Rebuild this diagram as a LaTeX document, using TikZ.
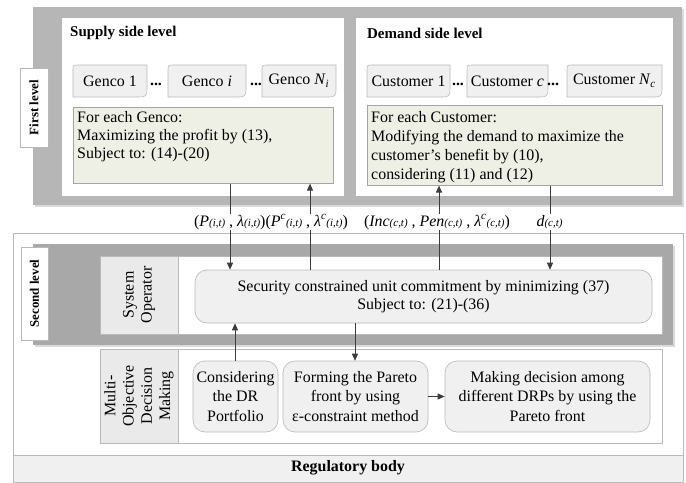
\documentclass[tikz,border=0pt]{standalone}
\usepackage{fontspec}
\setmainfont{Liberation Serif}
\usetikzlibrary{arrows.meta,calc}
\definecolor{frameA}{RGB}{182,182,182}
\definecolor{frameB}{RGB}{168,168,168}
\definecolor{shadowc}{RGB}{218,218,218}
\definecolor{boxline}{RGB}{185,185,185}
\definecolor{greenf}{RGB}{238,240,229}
\definecolor{greenl}{RGB}{165,165,165}
\definecolor{lightf}{RGB}{240,240,240}
\definecolor{labf}{RGB}{234,234,234}
\definecolor{arrc}{RGB}{60,60,60}
\newcommand\lsub[1]{{\fontsize{11}{11}\selectfont\textit{#1}}}
\newcommand\lsup[1]{\textsuperscript{\textit{#1}}}
\newcommand\dsub[1]{\textsubscript{\textit{#1}}}
\tikzset{
  whitebox/.style={draw=boxline, fill=white, line width=0.6bp},
  labbox/.style={draw=boxline, fill=labf, line width=0.6bp},
  gshape/.style={draw=boxline, fill=lightf, line width=0.6bp},
  greenbox/.style={draw=greenl, fill=greenf, line width=0.6bp, inner sep=0pt},
  rbox/.style={draw=boxline, fill=lightf, line width=0.6bp, rounded corners=12bp, align=center, inner sep=0pt, font=\fontsize{16}{19.5}\selectfont},
  txt/.style={font=\fontsize{16}{18}\selectfont, inner sep=0pt},
  ttl/.style={font=\fontsize{15}{18}\selectfont\bfseries, inner sep=0pt},
  vlab/.style={font=\fontsize{13}{15}\selectfont\bfseries, inner sep=0pt, rotate=90},
  vtxt/.style={font=\fontsize{16}{18}\selectfont, inner sep=0pt, rotate=90, align=center},
  flow/.style={draw=arrc, line width=0.9bp, -{Triangle[length=7bp,width=6bp]}},
  flab/.style={fill=white, inner sep=1bp, font=\fontsize{16}{18}\selectfont}
}
\newcommand\gbox[6]{%
  \draw[gshape] (#2,#5) -- (#2,{#3+6}) .. controls (#2,#3) .. ({#2+6},#3) -- (#4,#3)
     -- (#4,{#5-11}) .. controls (#4,#5) .. ({#4-11},#5) -- cycle;
  \node[txt] (#1) at ({(#2+#4)/2},{(#3+#5)/2}) {#6};}
\begin{document}
\begin{tikzpicture}[x=1bp,y=-1bp]
\useasboundingbox (0,0) rectangle (686,483);
% ---------------- First level ----------------
\fill[shadowc] (35,9) rectangle (684,207);
\fill[frameA] (33,7) rectangle (682,205);
\draw[whitebox, draw=white] (62,18) rectangle (343,195);
\draw[whitebox, draw=white] (356,18) rectangle (672,195);
\draw[whitebox] (20,68) rectangle (48,147);
\node[vlab] (l1) at (34,107.5) {First level};
\node[ttl, anchor=west] (sup) at (70,33) {Supply side level};
\node[ttl, anchor=west] (dem) at (367,33) {Demand side level};
% gencos
\gbox{ga}{73}{65}{147}{97}{Genco 1}
\node[txt, font=\fontsize{16}{18}\selectfont\bfseries] (d1) at (156,84) {...};
\gbox{gb}{168}{65}{246}{97}{Genco \textit{i}}
\node[txt, font=\fontsize{16}{18}\selectfont\bfseries] (d2) at (256,84) {...};
\gbox{gc}{262}{65}{336}{97}{Genco \textit{N}\dsub{i}}
% customers
\gbox{ca}{367}{65}{450}{97}{Customer 1}
\node[txt, font=\fontsize{16}{18}\selectfont\bfseries] (d3) at (458,84) {...};
\gbox{cb}{467}{65}{548}{97}{Customer \textit{c}}
\node[txt, font=\fontsize{16}{18}\selectfont\bfseries] (d4) at (553,84) {...};
\gbox{cc}{567}{65}{662}{97}{Customer \textit{N}\dsub{c}}
% green boxes
\node[greenbox, minimum width=260bp, minimum height=76bp, anchor=north west] (gs) at (73,107) {};
\node[txt, anchor=north west, align=left] (gstxt) at (77,111.5) {For each Genco:\\Maximizing the profit by (13),\\Subject to: (14)-(20)};
\node[greenbox, minimum width=295bp, minimum height=80bp, anchor=north west] (gd) at (367,105) {};
\node[txt, anchor=north west, align=left, font=\fontsize{16}{19}\selectfont] (gdtxt) at (371,111.5) {For each Customer:\\Modifying the demand to maximize the\\customer’s benefit by (10),\\considering (11) and (12)};
% ---------------- Second level ----------------
\draw[boxline, line width=0.6bp] (13,233) rectangle (683,482);
\draw[boxline, fill=lightf, line width=0.6bp] (13,455) rectangle (683,482);
\node[txt, font=\fontsize{16}{18}\selectfont\bfseries] (reg) at (348,468) {Regulatory body};
\fill[shadowc] (35,246) rectangle (675,347);
\fill[frameB] (33,244) rectangle (673,345);
\draw[whitebox] (21,247) rectangle (48,340);
\node[vlab] (l2) at (34.5,293.5) {Second level};
% system operator
\draw[whitebox] (100,256) rectangle (662,334);
\draw[labbox] (100,256) rectangle (178,334);
\node[vtxt] (so) at (139,295) {System\\Operator};
\node[rbox, minimum width=457bp, minimum height=53bp, font=\fontsize{16}{18}\selectfont] (scuc) at (423.5,296.5) {Security constrained unit commitment by minimizing (37)\\Subject to: (21)-(36)};
% MODM
\draw[whitebox] (100,349) rectangle (662,443);
\draw[labbox] (100,349) rectangle (178,443);
\node[vtxt, font=\fontsize{16}{18.3}\selectfont] (modm) at (139,396) {Multi-\\Objective\\Decision\\Making};
\node[rbox, minimum width=85bp, minimum height=71bp] (cons) at (235.5,396.5) {Considering\\the DR\\Portfolio};
\node[rbox, minimum width=145bp, minimum height=71bp] (form) at (355.5,396.5) {Forming the Pareto\\front by using\\ε-constraint method};
\node[rbox, minimum width=205bp, minimum height=71bp] (make) at (547.5,396.5) {Making decision among\\different DRPs by using the\\Pareto front};
% ---------------- connectors ----------------
\coordinate (xa) at (230,0);
\coordinate (xb) at (310,0);
\coordinate (xc) at (439,0);
\coordinate (xd) at (550,0);
\coordinate (xe) at (235,0);
\coordinate (xf) at (355,0);
\draw[flow] (gs.south -| xa) -- (scuc.north -| xa);
\draw[flow] (scuc.north -| xb) -- (gs.south -| xb);
\draw[flow] (scuc.north -| xc) -- (gd.south -| xc);
\draw[flow] (gd.south -| xd) -- (scuc.north -| xd);
\draw[flow] (cons.north -| xe) -- (scuc.south -| xe);
\draw[flow] (scuc.south -| xf) -- (form.north -| xf);
\draw[flow] (form.east) -- (make.west);
% labels
\node[flab] (la) at (271,222) {(\textit{P}\lsub{(i,t)} , \textit{λ}\lsub{(i,t)})(\textit{P}\lsup{c}\lsub{(i,t)} , \textit{λ}\lsup{c}\lsub{(i,t)})};
\node[flab] (lb) at (437,222) {(\textit{Inc}\lsub{(c,t)} , \textit{Pen}\lsub{(c,t)} , \textit{λ}\lsup{c}\lsub{(c,t)})};
\node[flab] (lc) at (549.5,222) {\textit{d}\lsub{(c,t)}};
\end{tikzpicture}
\end{document}
